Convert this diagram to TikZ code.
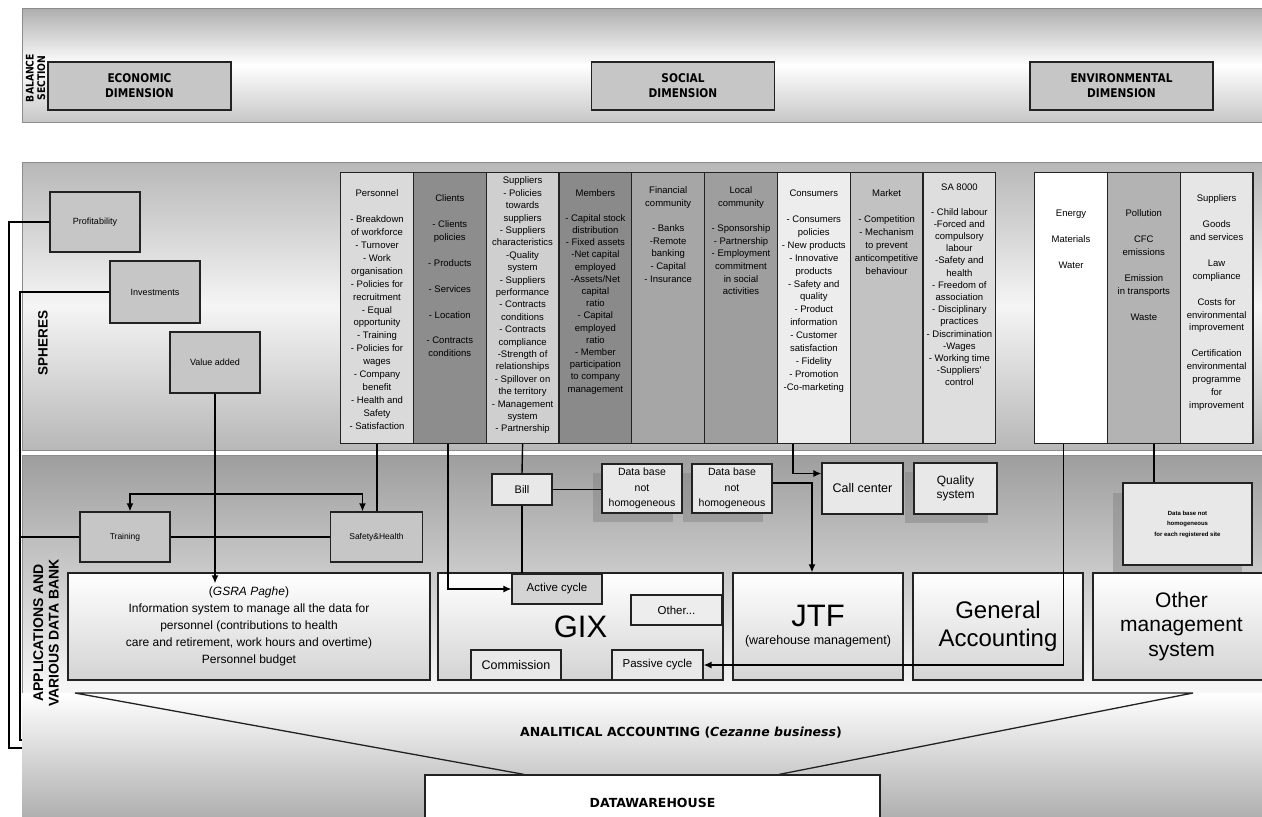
\documentclass[tikz,border=0pt]{standalone}
\usepackage{fontspec}
\setmainfont{Liberation Sans}
\newfontfamily\condfont[FakeStretch=0.88]{DejaVu Sans}
\newfontfamily\heavyfont{DejaVu Sans}
\usetikzlibrary{arrows.meta,calc}

\definecolor{edge}{HTML}{222222}
\definecolor{boxgray}{HTML}{C6C6C6}
\definecolor{cPers}{HTML}{DADADA}
\definecolor{cCli}{HTML}{8D8D8D}
\definecolor{cSup}{HTML}{CFCFCF}
\definecolor{cMem}{HTML}{8A8A8A}
\definecolor{cFin}{HTML}{A6A6A6}
\definecolor{cLoc}{HTML}{9E9E9E}
\definecolor{cCon}{HTML}{EDEDED}
\definecolor{cMkt}{HTML}{C2C2C2}
\definecolor{cSA}{HTML}{DEDEDE}
\definecolor{cEne}{HTML}{FFFFFF}
\definecolor{cPol}{HTML}{B3B3B3}
\definecolor{cESup}{HTML}{E6E6E6}

% column text: top gap, line spacing, lines
\newcommand{\coltxt}[3]{\parbox[t][271pt][t]{72.8pt}{\centering\fontsize{9.5}{#2}\selectfont\vspace*{#1pt}#3}}

\tikzset{
  band/.style={draw=black!45, line width=0.8pt},
  dimbox/.style={draw=edge, line width=1.3pt, fill=boxgray, align=center,
    font=\condfont\bfseries\fontsize{12}{15}\selectfont,
    minimum width=183pt, minimum height=48pt, inner sep=0pt},
  sbox/.style={draw=edge, line width=1.3pt, fill=boxgray, inner sep=0pt,
    font=\fontsize{9}{11}\selectfont},
  col/.style={draw=edge, line width=1.2pt, inner sep=0pt, anchor=north west},
  appbox/.style={draw=edge, line width=1.3pt, top color=white, bottom color=black!17,
    inner sep=0pt, align=center},
  smallbox/.style={draw=edge, line width=1.2pt, fill=black!9, inner sep=0pt, align=center},
  shadowbox/.style={fill=black!50, opacity=0.45},
  conn/.style={line width=1.4pt, draw=black},
  arr/.style={conn, -{Latex[length=8pt,width=7pt]}},
  sidelabel/.style={rotate=90, align=center, font=\bfseries\fontsize{14}{15.5}\selectfont}
}

\begin{document}
\begin{tikzpicture}[x=1pt,y=-1pt]
\useasboundingbox (0,0) rectangle (1262,817);

% ---------- background bands ----------
\path[band, top color=black!32, bottom color=black!22, middle color=white] (22,8) rectangle (1264,122);
\path[band, top color=black!28, bottom color=black!28, middle color=black!4] (22,162) rectangle (1264,450);
\path[band, top color=black!38, bottom color=black!3] (22,455) rectangle (1264,693);
\path[top color=white, bottom color=black!32] (22,693) rectangle (1264,820);

% ---------- balance section ----------
\node[rotate=90, align=center, font=\condfont\bfseries\fontsize{10.5}{11.5}\selectfont] (balance) at (35.5,78) {BALANCE\\SECTION};
\node[dimbox] (econ) at (139.5,86) {ECONOMIC\\DIMENSION};
\node[dimbox] (soc) at (683,86) {SOCIAL\\DIMENSION};
\node[dimbox] (env) at (1121.5,86) {ENVIRONMENTAL\\DIMENSION};

% ---------- spheres ----------
\node[sidelabel, font=\bfseries\fontsize{13.5}{15}\selectfont] (spheres) at (43,343) {SPHERES};
\node[sbox, minimum width=90pt, minimum height=60pt] (prof) at (95,222) {Profitability};
\node[sbox, minimum width=90pt, minimum height=62pt] (inv) at (155,292) {Investments};
\node[sbox, minimum width=90pt, minimum height=61pt] (vadd) at (215,362.5) {Value added};

% social spheres
\node[col, fill=cPers] (pers) at (340,172) {\coltxt{17.5}{12.9}{Personnel\\[\baselineskip]- Breakdown\\of workforce\\- Turnover\\- Work\\organisation\\- Policies for\\recruitment\\- Equal\\opportunity\\- Training\\- Policies for\\wages\\- Company\\benefit\\- Health and\\Safety\\- Satisfaction}};
\node[col, fill=cCli] (cli) at (412.8,172) {\coltxt{22.5}{12.9}{Clients\\[\baselineskip]- Clients\\policies\\[\baselineskip]- Products\\[\baselineskip]- Services\\[\baselineskip]- Location\\[\baselineskip]- Contracts\\conditions}};
\node[col, fill=cSup] (sup) at (485.6,172) {\coltxt{4.5}{12.4}{Suppliers\\- Policies\\towards\\suppliers\\- Suppliers\\characteristics\\-Quality\\system\\- Suppliers\\performance\\- Contracts\\conditions\\- Contracts\\compliance\\-Strength of\\relationships\\- Spillover on\\the territory\\- Management\\system\\- Partnership}};
\node[col, fill=cMem] (mem) at (558.4,172) {\coltxt{17.5}{12.2}{Members\\[\baselineskip]- Capital stock\\distribution\\- Fixed assets\\-Net capital\\employed\\-Assets/Net\\capital\\ratio\\- Capital\\employed\\ratio\\- Member\\participation\\to company\\management}};
\node[col, fill=cFin] (fin) at (631.2,172) {\coltxt{14.5}{12.6}{Financial\\community\\[\baselineskip]- Banks\\-Remote\\banking\\- Capital\\- Insurance}};
\node[col, fill=cLoc] (loc) at (704,172) {\coltxt{14.5}{12.6}{Local\\community\\[\baselineskip]- Sponsorship\\- Partnership\\- Employment\\commitment\\in social\\activities}};
\node[col, fill=cCon] (con) at (776.8,172) {\coltxt{17.5}{12.9}{Consumers\\[\baselineskip]- Consumers\\policies\\- New products\\- Innovative\\products\\- Safety and\\quality\\- Product\\information\\- Customer\\satisfaction\\- Fidelity\\- Promotion\\-Co-marketing}};
\node[col, fill=cMkt] (mkt) at (849.6,172) {\coltxt{17.5}{12.9}{Market\\[\baselineskip]- Competition\\- Mechanism\\to prevent\\anticompetitive\\behaviour}};
\node[col, fill=cSA] (sa) at (922.4,172) {\coltxt{11.5}{12.2}{SA 8000\\[\baselineskip]- Child labour\\-Forced and\\compulsory\\labour\\-Safety and\\health\\- Freedom of\\association\\- Disciplinary\\practices\\- Discrimination\\-Wages\\- Working time\\-Suppliers'\\control}};

% environmental spheres
\node[col, fill=cEne] (ene) at (1034,172) {\coltxt{37.5}{12.9}{Energy\\[\baselineskip]Materials\\[\baselineskip]Water}};
\node[col, fill=cPol] (pol) at (1106.8,172) {\coltxt{37.5}{12.9}{Pollution\\[\baselineskip]CFC\\emissions\\[\baselineskip]Emission\\in transports\\[\baselineskip]Waste}};
\node[col, fill=cESup] (esup) at (1179.6,172) {\coltxt{22.5}{12.9}{Suppliers\\[\baselineskip]Goods\\and services\\[\baselineskip]Law\\compliance\\[\baselineskip]Costs for\\environmental\\improvement\\[\baselineskip]Certification\\environmental\\programme\\for\\improvement}};

% ---------- applications and data banks ----------
\node[sidelabel] (apps) at (46,633) {APPLICATIONS AND\\VARIOUS DATA BANK};

\node[sbox, minimum width=90pt, minimum height=50pt, font=\fontsize{8.5}{10}\selectfont] (train) at (125,537) {Training};
\node[sbox, minimum width=92pt, minimum height=50pt, font=\fontsize{8.5}{10}\selectfont] (safe) at (376.5,537) {Safety\&Health};

% shadows of the data base boxes
\fill[shadowbox] (593,473) rectangle (673,522);
\fill[shadowbox] (683,473) rectangle (763,522);
\fill[shadowbox] (905,472) rectangle (988,523);
\fill[shadowbox] (1113,493) rectangle (1242,574);

\node[smallbox, minimum width=60pt, minimum height=31pt, font=\fontsize{11}{13}\selectfont] (bill) at (522,489.5) {Bill};
\node[smallbox, minimum width=80pt, minimum height=49pt, font=\fontsize{10.5}{15.5}\selectfont] (db1) at (642,488.5) {Data base\\not\\homogeneous};
\node[smallbox, minimum width=80pt, minimum height=49pt, font=\fontsize{10.5}{15.5}\selectfont] (db2) at (732,488.5) {Data base\\not\\homogeneous};
\node[smallbox, minimum width=81pt, minimum height=51pt, font=\fontsize{12.5}{14}\selectfont] (callc) at (862.5,488.5) {Call center};
\node[smallbox, minimum width=83pt, minimum height=51pt, font=\fontsize{12}{14}\selectfont] (qual) at (955.5,488.5) {Quality\\system};
\node[smallbox, minimum width=129pt, minimum height=82pt, font=\bfseries\fontsize{6}{10.5}\selectfont] (rdb) at (1187.5,524) {Data base not\\homogeneous\\for each registered site};

% application systems
\node[appbox, minimum width=362pt, minimum height=107pt, font=\fontsize{12}{17}\selectfont] (gsra) at (249,626.5)
  {(\textit{GSRA Paghe})\\Information system to manage all the data for\\personnel (contributions to health\\care and retirement, work hours and overtime)\\Personnel budget};
\node[appbox, minimum width=285pt, minimum height=107pt, font=\fontsize{31}{31}\selectfont] (gix) at (580.5,626.5) {GIX};
\node[smallbox, fill=black!17, minimum width=90pt, minimum height=30pt, font=\fontsize{11.5}{13}\selectfont] (active) at (557,589) {Active cycle};
\node[smallbox, fill=black!7, minimum width=91pt, minimum height=30pt, font=\fontsize{11.5}{13}\selectfont] (other) at (676.5,610) {Other...};
\node[smallbox, fill=black!9, minimum width=90pt, minimum height=30pt, font=\fontsize{12.5}{14}\selectfont] (comm) at (516,665) {Commission};
\node[smallbox, fill=black!9, minimum width=91pt, minimum height=30pt, font=\fontsize{11.5}{13}\selectfont] (passive) at (657.5,665) {Passive cycle};
\node[appbox, minimum width=170pt, minimum height=107pt] (jtf) at (818,626.5)
  {{\fontsize{31}{31}\selectfont JTF}\\[6pt]{\fontsize{12.5}{13}\selectfont (warehouse management)}};
\node[appbox, minimum width=170pt, minimum height=107pt, font=\fontsize{24}{28}\selectfont] (ga) at (998,626.5) {General\\Accounting};
\node[appbox, minimum width=177pt, minimum height=107pt, font=\fontsize{21}{24.5}\selectfont] (oms) at (1181.5,626.5) {Other\\management\\system};

% analytical accounting and data warehouse
\node[draw=edge, line width=1.3pt, fill=white, minimum width=455pt, minimum height=56pt, inner sep=0pt,
  font=\heavyfont\bfseries\fontsize{12.5}{14}\selectfont] (dw) at (652.5,803) {DATAWAREHOUSE};
\coordinate (tl) at (75,693);
\coordinate (tr) at (1193,693);
\draw[line width=1.3pt, edge] ($(dw.north west)!0.218!(dw.north east)$) -- (tl) -- (tr)
  -- ($(dw.north west)!0.778!(dw.north east)$);
\node[font=\heavyfont\bfseries\fontsize{12.5}{14}\selectfont] (aa) at (681,733)
  {ANALITICAL ACCOUNTING (\textit{Cezanne business})};

% ---------- connectors ----------
\coordinate (outerend) at (22,748);
\coordinate (innerend) at (22,740);
\draw[conn] (prof.west) -| (9,748) -- (outerend);
\draw[conn] (inv.west) -| (20,740) -- (innerend);
\draw[conn] (train.west) -- (train.west -| 20,0);
\draw[conn] (train.east) -- (safe.west);
\draw[conn] (pers.south) -- (pers.south |- safe.north);
\coordinate (fork) at (vadd.south |- 0,494);
\draw[arr] (vadd.south) -- ([yshift=-11pt]vadd.south |- gsra.north);
\draw[arr] (fork) -| ([xshift=5pt]train.north);
\draw[arr] (fork) -| ([xshift=-14pt]safe.north);

\draw[arr] ([xshift=-2pt]cli.south) |- (active.west);
\draw[conn] (sup.south) -- (bill.north);
\draw[conn] (bill.south) -- (bill.south |- active.north);
\draw[conn] (bill.east) -- (bill.east -| db1.west);
\draw[arr] ([yshift=5.5pt]db2.east) -| ([xshift=-6pt]jtf.north);
\draw[arr] ([xshift=-21pt]con.south) |- ([yshift=15pt]callc.west);
\draw[arr] ([xshift=-7.5pt]ene.south) |- (passive.east);
\draw[conn] ([xshift=10pt]pol.south) -- ([xshift=10pt]pol.south |- rdb.north);
\end{tikzpicture}
\end{document}
